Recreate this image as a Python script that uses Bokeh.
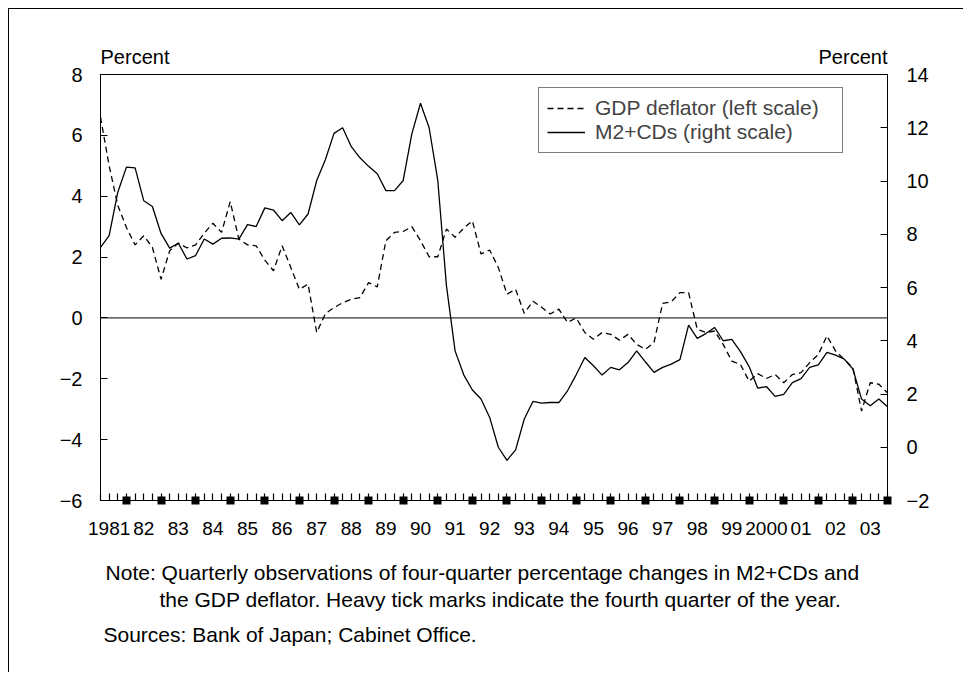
import pandas as pd
from bokeh.plotting import figure
from bokeh.models import Range1d, LinearAxis, FixedTicker, Span, Legend, LegendItem, Title
from bokeh.embed import file_html
from bokeh.resources import INLINE

# ---------------- data ----------------
quarters = pd.period_range("1981Q1", "2003Q4", freq="Q")
t = [q.year + (q.quarter - 1) / 4 for q in quarters]

gdp_deflator = [
    6.6, 5.0, 3.7, 2.97, 2.40, 2.70, 2.32, 1.27, 2.21, 2.46, 2.30, 2.40,
    2.79, 3.11, 2.81, 3.82, 2.59, 2.40, 2.37, 1.90, 1.55, 2.37, 1.66, 0.94,
    1.11, -0.48, 0.14, 0.34, 0.50, 0.61, 0.67, 1.16, 1.02, 2.54, 2.81, 2.84,
    3.00, 2.54, 2.01, 2.01, 2.92, 2.65, 2.95, 3.19, 2.10, 2.23, 1.66, 0.78,
    0.94, 0.15, 0.55, 0.35, 0.13, 0.29, -0.15, 0.00, -0.48, -0.70, -0.48, -0.54,
    -0.73, -0.54, -0.87, -1.03, -0.81, 0.48, 0.53, 0.83, 0.83, -0.37, -0.48, -0.43,
    -0.87, -1.42, -1.53, -2.08, -1.83, -1.99, -1.86, -2.13, -1.86, -1.80, -1.47, -1.20,
    -0.59, -1.09, -1.36, -1.64, -3.06, -2.13, -2.18, -2.46,
]

m2_cds = [
    7.51, 7.95, 9.58, 10.52, 10.49, 9.26, 9.04, 8.03, 7.48, 7.66, 7.07, 7.20,
    7.82, 7.63, 7.85, 7.86, 7.82, 8.36, 8.29, 8.99, 8.91, 8.51, 8.82, 8.35,
    8.76, 10.02, 10.80, 11.79, 12.00, 11.29, 10.87, 10.55, 10.27, 9.64, 9.64, 10.02,
    11.77, 12.92, 12.00, 10.02, 6.07, 3.62, 2.72, 2.15, 1.81, 1.12, 0.00, -0.49,
    -0.10, 1.06, 1.72, 1.66, 1.68, 1.68, 2.12, 2.72, 3.37, 3.06, 2.71, 3.00,
    2.91, 3.18, 3.62, 3.21, 2.81, 3.00, 3.12, 3.29, 4.59, 4.09, 4.27, 4.50,
    4.00, 4.05, 3.59, 3.03, 2.22, 2.28, 1.91, 1.99, 2.43, 2.58, 3.00, 3.09,
    3.56, 3.46, 3.31, 2.94, 1.81, 1.56, 1.81, 1.52,
]

label_years = list(range(1981, 2004))
year_labels = ["1981", "82", "83", "84", "85", "86", "87", "88", "89", "90", "91",
               "92", "93", "94", "95", "96", "97", "98", "99", "2000", "01", "02", "03"]
left_ticks = [-6, -4, -2, 0, 2, 4, 6, 8]
right_ticks = [-2, 0, 2, 4, 6, 8, 10, 12, 14]

unit_label = "Percent"
note_lines = [
    "Note: Quarterly observations of four-quarter percentage changes in M2+CDs and",
    "the GDP deflator. Heavy tick marks indicate the fourth quarter of the year.",
]
source_line = "Sources: Bank of Japan; Cabinet Office."

FONT = "Liberation Sans"

# ---------------- figure ----------------
W, H = 955, 664
ML, MR, MT, MB = 91, 77, 65, 173
frame_w = W - ML - MR

p = figure(width=W, height=H,
           x_range=Range1d(t[0], t[-1]), y_range=Range1d(-6, 8),
           output_backend="svg", toolbar_location=None,
           min_border_left=ML, min_border_right=MR,
           min_border_top=MT, min_border_bottom=MB)
p.extra_y_ranges = {"right": Range1d(-2, 14)}
p.grid.visible = False
p.outline_line_color = "black"
p.outline_line_width = 1
p.styles = {"margin-left": "8px", "margin-top": "8px",
            "border-top": "1px solid black", "border-left": "1px solid black"}

# x axis: quarterly ticks, heavy Q4 ticks
heavy = [y + 0.75 for y in label_years]
xa = p.xaxis[0]
xa.ticker = FixedTicker(ticks=heavy, minor_ticks=t)
xa.major_label_overrides = {h: "" for h in heavy}
xa.axis_line_color = "black"
xa.major_tick_line_color = "black"
xa.major_tick_line_width = 8
xa.major_tick_in = 4
xa.major_tick_out = 4
xa.minor_tick_line_color = "black"
xa.minor_tick_line_width = 1.2
xa.minor_tick_in = 7
xa.minor_tick_out = 0
xa.major_label_standoff = 0
xa.major_label_text_font_size = "10px"

# year labels (centred on the 2nd quarter) + first note line as axis label
# (trailing no-break spaces nudge the centred note line to start near the frame's left edge)
label_pos = [y + 0.25 for y in label_years]
xb = LinearAxis(ticker=FixedTicker(ticks=label_pos),
                major_label_overrides={pos: lab for pos, lab in zip(label_pos, year_labels)},
                axis_line_color=None, major_tick_line_color=None, minor_tick_line_color=None,
                major_tick_in=0, major_tick_out=0,
                major_label_standoff=17,
                major_label_text_font=FONT, major_label_text_font_size="19px",
                major_label_text_color="black",
                axis_label=note_lines[0] + "\u00a0" * 4, axis_label_standoff=23,
                axis_label_text_font=FONT, axis_label_text_font_size="21px",
                axis_label_text_font_style="normal", axis_label_text_color="black")
p.add_layout(xb, "below")

# "Percent" unit labels above both scales
half_w = 34.5 * (t[-1] - t[0]) / frame_w
unit_pos = [t[0] + half_w, t[-1] - half_w]
xu = LinearAxis(ticker=FixedTicker(ticks=unit_pos),
                major_label_overrides={v: unit_label for v in unit_pos},
                axis_line_color=None, major_tick_line_color=None, minor_tick_line_color=None,
                major_tick_in=0, major_tick_out=0, major_label_standoff=7,
                major_label_text_font=FONT, major_label_text_font_size="20px",
                major_label_text_color="black")
p.add_layout(xu, "above")

def minus(v):
    return str(v).replace("-", "\u2212")

ya = p.yaxis[0]
ya.ticker = FixedTicker(ticks=left_ticks)
ya.major_label_overrides = {v: minus(v) for v in left_ticks}
ya.axis_line_color = "black"
ya.major_tick_line_color = "black"
ya.major_tick_in = 7
ya.major_tick_out = 0
ya.minor_tick_line_color = None
ya.major_label_standoff = 18
ya.major_label_text_font = FONT
ya.major_label_text_font_size = "20px"
ya.major_label_text_color = "black"

yr = LinearAxis(y_range_name="right", ticker=FixedTicker(ticks=right_ticks),
                major_label_overrides={v: minus(v) for v in right_ticks},
                axis_line_color="black", major_tick_line_color="black",
                major_tick_in=7, major_tick_out=0, minor_tick_line_color=None,
                major_label_standoff=19, major_label_text_font=FONT,
                major_label_text_font_size="20px", major_label_text_color="black")
p.add_layout(yr, "right")

p.add_layout(Span(location=0, dimension="width", line_color="black", line_width=1))

r_gdp = p.line(t, gdp_deflator, line_color="black", line_width=1.3, line_dash="6 4")
r_m2 = p.line(t, m2_cds, y_range_name="right", line_color="black", line_width=1.3)

legend = Legend(items=[LegendItem(label="GDP deflator (left scale)", renderers=[r_gdp]),
                       LegendItem(label="M2+CDs (right scale)", renderers=[r_m2])],
                location=(438, 347), border_line_color="black", border_line_width=1,
                background_fill_color="white", background_fill_alpha=1,
                label_text_font=FONT, label_text_font_size="21px",
                glyph_width=38, glyph_height=22, label_height=22, label_width=239,
                spacing=0, padding=8, margin=0, label_standoff=10)
p.add_layout(legend)

# remaining note lines below the chart
for txt, off, sto in [(note_lines[1], 59, -2), (source_line, 3, 22)]:
    p.add_layout(Title(text=txt, align="left", offset=off, standoff=sto,
                       text_font=FONT, text_font_size="21px", text_font_style="normal",
                       text_color="black"), "below")

open("out.html", "w").write(file_html(p, INLINE))
